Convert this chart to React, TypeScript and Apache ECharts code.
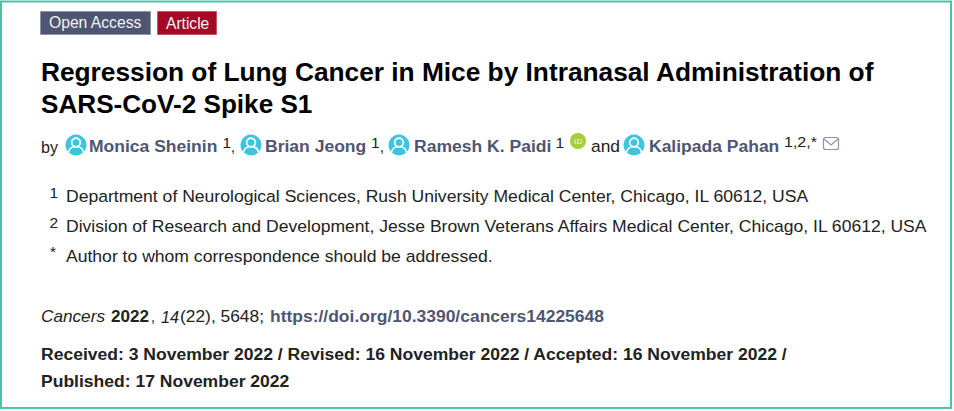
import React, { useEffect, useRef } from "react";
import * as echarts from "echarts";

const badgeLabels = ["Open Access", "Article"];
const titleLines = [
  "Regression of Lung Cancer in Mice by Intranasal Administration of",
  "SARS-CoV-2 Spike S1",
];
const authorNames = ["Monica Sheinin", "Brian Jeong", "Ramesh K. Paidi", "Kalipada Pahan"];
const authorMarks = ["1", "1", "1", "1,2,*"];
const affiliationMarks = ["1", "2", "*"];
const affiliations = [
  "Department of Neurological Sciences, Rush University Medical Center, Chicago, IL 60612, USA",
  "Division of Research and Development, Jesse Brown Veterans Affairs Medical Center, Chicago, IL 60612, USA",
  "Author to whom correspondence should be addressed.",
];
const citationParts = ["Cancers", "2022", ",", "14", "(22), 5648;", "https://doi.org/10.3390/cancers14225648"];
const dateLines = [
  "Received: 3 November 2022 / Revised: 16 November 2022 / Accepted: 16 November 2022 /",
  "Published: 17 November 2022",
];

const FONT = '"Liberation Sans", Arial, sans-serif';
const SLATE = "#4f5671";
const INK = "#222222";
const CYAN = "#3cc5de";
const BODY = 16.6;
const MARK = 15.5;

let ctx: CanvasRenderingContext2D | null = null;
function measure(t: string, size: number, weight: string, style: string) {
  if (!ctx) ctx = document.createElement("canvas").getContext("2d");
  ctx!.font = `${style} ${weight} ${size}px "Liberation Sans"`;
  return ctx!.measureText(t).width;
}

// text fitted between two x positions of the picture
function fit(
  t: string, x0: number, x1: number, yMid: number, size: number, fill: string,
  weight = "normal", style = "normal",
) {
  const w = measure(t, size, weight, style);
  return {
    type: "text", x: x0, y: yMid, scaleX: (x1 - x0) / w, scaleY: 1, silent: true,
    style: {
      text: t, fill, fontFamily: FONT, fontSize: size, fontWeight: weight, fontStyle: style,
      textAlign: "left", textVerticalAlign: "middle",
    },
  };
}

// text at its natural width
function plain(t: string, x: number, yMid: number, size: number, fill: string) {
  return {
    type: "text", x, y: yMid, silent: true,
    style: { text: t, fill, fontFamily: FONT, fontSize: size, textAlign: "left", textVerticalAlign: "middle" },
  };
}

function person(cx: number, cy: number) {
  return {
    type: "group", silent: true,
    children: [
      { type: "circle", shape: { cx, cy, r: 10.5 }, style: { fill: CYAN } },
      { type: "circle", shape: { cx, cy: cy - 2.5, r: 4.4 }, style: { fill: "none", stroke: "#fff", lineWidth: 1.7 } },
      {
        type: "arc",
        shape: { cx, cy: cy + 9.5, r: 8, startAngle: Math.PI * 1.08, endAngle: Math.PI * 1.92, clockwise: true },
        style: { fill: "none", stroke: "#fff", lineWidth: 1.7 },
      },
    ],
  };
}

function buildGraphic() {
  const el: any[] = [];
  el.push({ type: "rect", shape: { x: 1, y: 1.5, width: 950, height: 406.5 }, style: { fill: "#fff", stroke: "#4fc1a6", lineWidth: 2 } });

  // badges
  el.push({ type: "rect", shape: { x: 40.5, y: 11.5, width: 110, height: 23 }, style: { fill: SLATE, stroke: "#8f94a8", lineWidth: 1 } });
  el.push({ type: "rect", shape: { x: 157.5, y: 11.5, width: 59, height: 23 }, style: { fill: "#a30a26", stroke: "#c4566a", lineWidth: 1 } });
  el.push(fit(badgeLabels[0], 49, 142.3, 23, 15.6, "#f2f2f2"));
  el.push(fit(badgeLabels[1], 166, 209.3, 23, 15.6, "#f2f2f2"));

  // title
  el.push(fit(titleLines[0], 41, 875, 72.5, 26, "#000", "bold"));
  el.push(fit(titleLines[1], 41, 312.6, 104.5, 26, "#000", "bold"));

  // authors
  const by = 146.5, sup = 142;
  el.push(fit("by", 41, 58, by, BODY, INK));
  el.push(person(76, 145));
  el.push(fit(authorNames[0], 89, 217.4, by, BODY, SLATE, "bold"));
  el.push(plain(authorMarks[0], 222.5, sup, MARK, INK));
  el.push(fit(",", 231, 235, by, BODY, INK));
  el.push(person(251, 145));
  el.push(fit(authorNames[1], 265, 366.3, by, BODY, SLATE, "bold"));
  el.push(plain(authorMarks[1], 371, sup, MARK, INK));
  el.push(fit(",", 380, 384, by, BODY, INK));
  el.push(person(399, 145));
  el.push(fit(authorNames[2], 414, 551.4, by, BODY, SLATE, "bold"));
  el.push(plain(authorMarks[2], 555.5, sup, MARK, INK));
  el.push({ type: "circle", silent: true, shape: { cx: 578, cy: 141, r: 8 }, style: { fill: "#a6ce39" } });
  el.push(fit("iD", 574, 583, 141.5, 8, "#dcebb0", "bold"));
  el.push(fit("and", 591, 620, by, BODY, INK));
  el.push(person(634, 145));
  el.push(fit(authorNames[3], 649, 779.4, by, BODY, SLATE, "bold"));
  el.push(fit(authorMarks[3], 784, 817, sup, MARK, INK));
  el.push({ type: "rect", silent: true, shape: { x: 823.5, y: 137.5, width: 15, height: 12, r: 2 }, style: { fill: "none", stroke: "#8f94a8", lineWidth: 1.2 } });
  el.push({ type: "polyline", silent: true, shape: { points: [[824, 139], [831, 145], [838, 139]] }, style: { fill: "none", stroke: "#8f94a8", lineWidth: 1.2 } });

  // affiliations
  const ys = [196.5, 226.5, 256.5];
  const ends = [809.5, 928.5, 493];
  affiliations.forEach((t, i) => {
    el.push(plain(affiliationMarks[i], i === 2 ? 50 : 49.5, ys[i] - (i === 2 ? 5 : 4), MARK, INK));
    el.push(fit(t, 66, ends[i], ys[i], BODY, INK));
  });

  // citation
  const cy = 316.5;
  el.push(fit(citationParts[0], 41, 105, cy, BODY, INK, "normal", "italic"));
  el.push(fit(citationParts[1], 111, 149, cy, BODY, INK, "bold"));
  el.push(fit(citationParts[2], 151, 155, cy, BODY, INK));
  el.push(fit(citationParts[3], 161, 179, cy, BODY, INK, "normal", "italic"));
  el.push(fit(citationParts[4], 180, 264, cy, BODY, INK));
  el.push(fit(citationParts[5], 270, 604, cy, BODY, SLATE, "bold"));

  // dates
  el.push(fit(dateLines[0], 41, 788, 354.5, BODY, INK, "bold"));
  el.push(fit(dateLines[1], 41, 289.3, 381.5, BODY, INK, "bold"));
  return el;
}

export default function App() {
  const ref = useRef<HTMLDivElement>(null);
  useEffect(() => {
    const chart = echarts.init(ref.current!, null, { renderer: "svg" });
    chart.setOption({ animation: false, backgroundColor: "#fff", graphic: { elements: buildGraphic() } });
    return () => chart.dispose();
  }, []);
  return <div ref={ref} style={{ position: "fixed", left: 0, top: 0, width: 954, height: 411 }} />;
}
